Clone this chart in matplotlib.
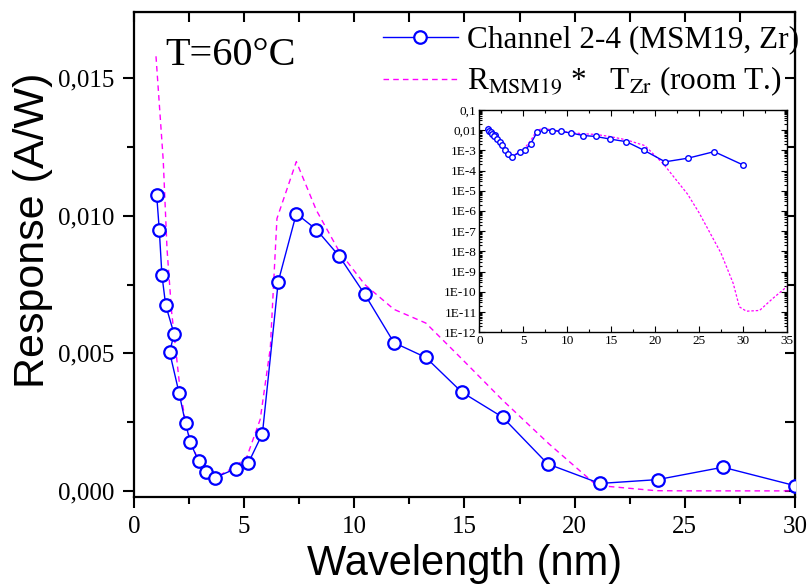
import matplotlib
matplotlib.use('Agg')
import matplotlib.pyplot as plt
from matplotlib.ticker import MultipleLocator, FixedLocator, NullFormatter, LogLocator

# measured channel response (blue circles)
wl_meas = [1.03, 1.15, 1.27, 1.44, 1.82, 1.62, 2.05, 2.34, 2.56, 2.93, 3.28, 3.67,
           4.63, 5.19, 5.83, 6.55, 7.37, 8.28, 9.32, 10.48, 11.80, 13.25, 14.88,
           16.73, 18.78, 21.15, 23.77, 26.73, 30.0]
resp_meas = [0.01076, 0.00948, 0.00784, 0.00675, 0.00571, 0.00504, 0.00355, 0.00246,
             0.00176, 0.00108, 0.00067, 0.00048, 0.00081, 0.00101, 0.00208, 0.00761,
             0.01008, 0.0095, 0.00853, 0.00714, 0.00539, 0.00485, 0.00359, 0.00268,
             0.00098, 0.00027, 0.00041, 0.00086, 0.00019]

# R_MSM19 * T_Zr (room T.) (magenta dashed)
wl_calc = [1.0, 1.33, 1.5, 1.71, 1.82, 2.09, 2.34, 2.56, 2.93, 3.28, 3.67, 4.63, 5.13,
           5.73, 6.19, 6.49, 7.37, 8.28, 9.32, 10.48, 11.80, 13.25, 14.88, 16.73,
           18.85, 21.0, 23.7, 25.0, 27.5, 28.9, 29.6, 30.4, 31.9, 33.4, 35.0]
resp_calc = [0.0158, 0.0120, 0.0088, 0.0065, 0.0057, 0.0037, 0.0025, 0.0018, 0.0011,
             0.0007, 0.00047, 0.0009, 0.00125, 0.0026, 0.0052, 0.0099, 0.01197, 0.0102,
             0.0087, 0.0075, 0.0066, 0.0061, 0.0048, 0.0033, 0.0017, 0.0002, 6.8e-6,
             8.3e-7, 8.3e-9, 2.6e-10, 1.8e-11, 1.1e-11, 1.2e-11, 4.7e-11, 1.8e-10]

main_yticks = [0.0, 0.005, 0.010, 0.015]
main_ylabels = ['0,000', '0,005', '0,010', '0,015']
inset_yticks = [1e-12, 1e-11, 1e-10, 1e-9, 1e-8, 1e-7, 1e-6, 1e-5, 1e-4, 1e-3, 1e-2, 1e-1]
inset_ylabels = ['1E-12', '1E-11', '1E-10', '1E-9', '1E-8', '1E-7', '1E-6', '1E-5',
                 '1E-4', '1E-3', '0,01', '0,1']

BLUE = '#0000ff'
MAGENTA = '#ff00ff'
SERIF = ['Liberation Serif', 'DejaVu Serif']
SANS = ['Liberation Sans', 'DejaVu Sans']


def main():
	plt.rcParams['mathtext.fontset'] = 'stix'
	fig = plt.figure(figsize=(8.07, 5.86), dpi=100)
	ax = fig.add_axes([0.166, 0.152, 0.819, 0.828])

	ax.plot(wl_meas, resp_meas, color=BLUE, lw=1.0, marker='o', ms=9, mfc='white',
	        mec=BLUE, mew=1.6, label='Channel 2-4 (MSM19, Zr)', zorder=3)
	ax.plot(wl_calc, resp_calc, color=MAGENTA, lw=1.0, ls=(0, (4, 3)),
	        label=r'R$_{\mathrm{MSM19}}$ *   T$_{\mathrm{Zr}}$ (room T.)', zorder=2)

	ax.set_xlim(0, 30)
	ax.set_ylim(-0.00022, 0.01742)
	ax.xaxis.set_major_locator(MultipleLocator(5))
	ax.xaxis.set_minor_locator(MultipleLocator(2.5))
	ax.set_yticks(main_yticks)
	ax.set_yticklabels(main_ylabels)
	ax.yaxis.set_minor_locator(MultipleLocator(0.0025))
	ax.tick_params(which='both', direction='out', width=1.5, top=False, right=False)
	ax.tick_params(which='major', length=8, labelsize=18, pad=6)
	ax.tick_params(which='minor', length=5)
	for lab in ax.get_xticklabels() + ax.get_yticklabels():
		lab.set_family(SERIF)
	for sp in ax.spines.values():
		sp.set_linewidth(1.6)

	# inward ticks on top and right
	top = ax.secondary_xaxis('top')
	top.xaxis.set_major_locator(MultipleLocator(2.5))
	top.tick_params(direction='in', length=7, width=1.5, labeltop=False)
	right = ax.secondary_yaxis('right')
	right.yaxis.set_major_locator(MultipleLocator(0.0025))
	right.tick_params(direction='in', length=7, width=1.5, labelright=False)

	ax.set_xlabel('Wavelength (nm)', fontsize=30, family=SANS, labelpad=4)
	ax.set_ylabel('Response (A/W)', fontsize=31, family=SANS)
	ax.yaxis.set_label_coords(-0.122, 0.55)

	ax.text(0.047, 0.91, 'T=60\u00b0C', transform=ax.transAxes, fontsize=29,
	        family=SERIF, va='center', ha='left')

	ax.legend(loc='upper right', bbox_to_anchor=(1.035, 1.01), frameon=False,
	          prop={'family': SERIF, 'size': 22.5}, handlelength=2.4,
	          handletextpad=0.3, labelspacing=0.33, borderaxespad=0.2)

	# log-scale inset
	ins = fig.add_axes([0.594, 0.433, 0.381, 0.3795])
	ins.plot(wl_meas, resp_meas, color=BLUE, lw=1.0, marker='o', ms=4, mfc='white',
	         mec=BLUE, mew=1.0, zorder=3)
	ins.plot(wl_calc, resp_calc, color=MAGENTA, lw=0.9, ls=(0, (2, 1.5)), zorder=2)
	ins.set_yscale('log')
	ins.set_xlim(0, 35)
	ins.set_ylim(1e-12, 0.1)
	ins.xaxis.set_major_locator(MultipleLocator(5))
	ins.xaxis.set_minor_locator(MultipleLocator(2.5))
	ins.yaxis.set_major_locator(FixedLocator(inset_yticks))
	ins.set_yticklabels(inset_ylabels)
	ins.yaxis.set_minor_locator(LogLocator(base=10, subs=range(2, 10), numticks=30))
	ins.yaxis.set_minor_formatter(NullFormatter())
	ins.tick_params(which='both', direction='in', top=True, right=True, width=0.8)
	ins.tick_params(which='major', length=4, labelsize=9.5, pad=2)
	ins.tick_params(which='minor', length=2)
	for lab in ins.get_xticklabels() + ins.get_yticklabels():
		lab.set_family(SERIF)
	for sp in ins.spines.values():
		sp.set_linewidth(1.0)

	fig.savefig('out.png', dpi=100)


if __name__ == '__main__':
	main()
